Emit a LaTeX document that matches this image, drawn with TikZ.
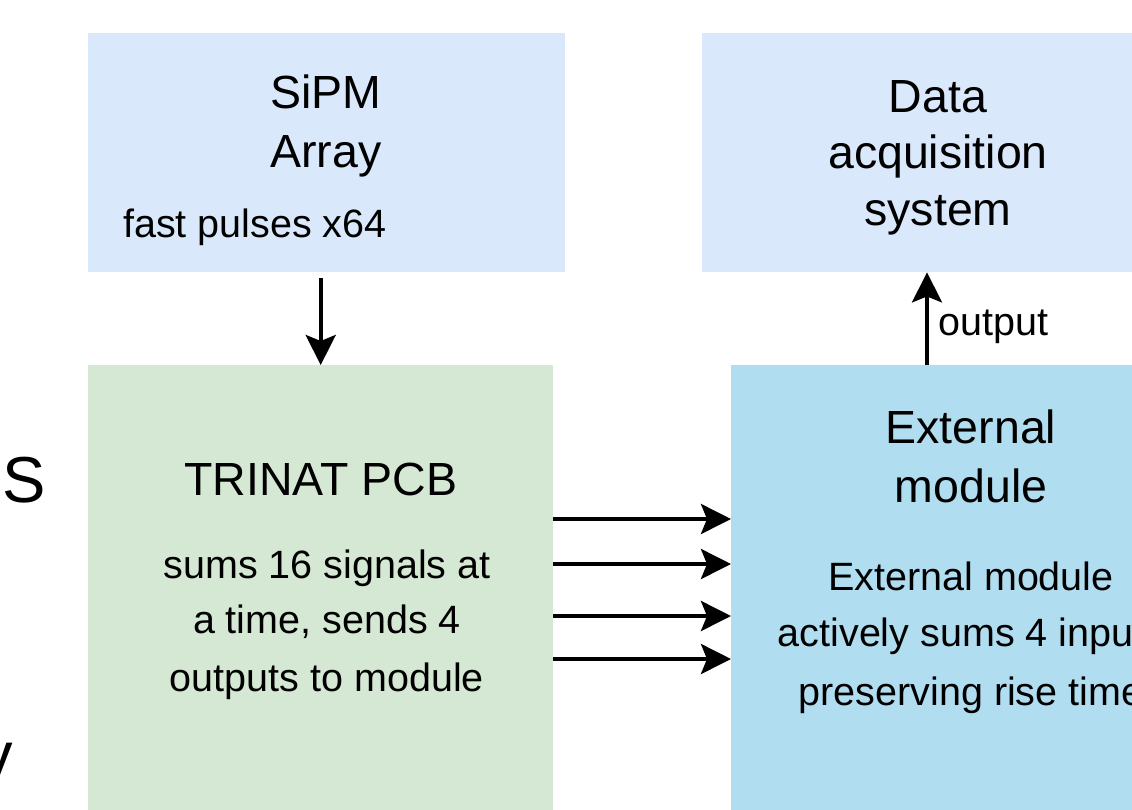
\documentclass[tikz,border=0pt]{standalone}
\usepackage{fontspec}
\setmainfont{Liberation Sans}
\usetikzlibrary{arrows.meta}
\definecolor{sipmblue}{HTML}{DAE8FC}
\definecolor{pcbgreen}{HTML}{D5E8D4}
\definecolor{modblue}{HTML}{B1DDF0}
\tikzset{
  block/.style={rectangle, inner sep=0pt, anchor=north west},
  bigtext/.style={font=\fontsize{46.5}{57}\selectfont, inner sep=0pt, anchor=base},
  smalltext/.style={font=\fontsize{39.5}{57}\selectfont, inner sep=0pt, anchor=base},
  sig/.style={-{Stealth[length=30pt,width=30pt,inset=6pt]}, line width=4pt}
}

\begin{document}
\begin{tikzpicture}[x=1pt,y=-1pt]
\useasboundingbox (0,0) rectangle (1132,809);
\clip (0,0) rectangle (1132,809);

% boxes
\node [block, fill=sipmblue, minimum width=477pt, minimum height=239pt] (sipm) at (88,33) {};
\node [block, fill=sipmblue, minimum width=477pt, minimum height=239pt] (daq) at (702,33) {};
\node [block, fill=pcbgreen, minimum width=465pt, minimum height=495pt] (trinat) at (88,365) {};
\node [block, fill=modblue, minimum width=480pt, minimum height=495pt] (ext) at (731,365) {};

% texts
\node [bigtext] (sipm1) at (326,108) {SiPM};
\node [bigtext] (sipm2) at (326,167) {Array};
\node [smalltext, anchor=base west] (sipm3) at (123,237) {fast pulses x64};

\node [bigtext] (daq1) at (938,112) {Data};
\node [bigtext] (daq2) at (938,168) {acquisition};
\node [bigtext] (daq3) at (938,225) {system};

\node [bigtext] (pcb1) at (321,495) {TRINAT PCB};
\node [smalltext] (pcb2) at (327,578) {sums 16 signals at};
\node [smalltext] (pcb3) at (327,633) {a time, sends 4};
\node [smalltext] (pcb4) at (327,691) {outputs to module};

\node [bigtext] (ext1) at (971,443) {External};
\node [bigtext] (ext2) at (971,502) {module};
\node [smalltext] (ext3) at (971,590) {External module};
\node [smalltext] (ext4) at (971,646) {actively sums 4 inputs};
\node [smalltext] (ext5) at (971,705) {preserving rise time};

\node [inner sep=0pt, anchor=base west, font=\fontsize{65}{70}\selectfont] (leftS) at (2,502) {S};
\node [inner sep=0pt, anchor=base east, font=\fontsize{65}{70}\selectfont] (lefty) at (13,777) {y};

% arrows
\draw [sig] ([yshift=-6pt]sipm.south -| trinat.north) -- (trinat.north);
\coordinate (outx) at (927,0);
\draw [sig] (ext.north -| outx) -- (daq.south -| outx);
\node [smalltext, anchor=base west] (outlabel) at (938,335) {output};
\foreach \y in {519,564,616,659}
  \draw [sig] (trinat.east |- 0,\y) -- (ext.west |- 0,\y);
\end{tikzpicture}
\end{document}
